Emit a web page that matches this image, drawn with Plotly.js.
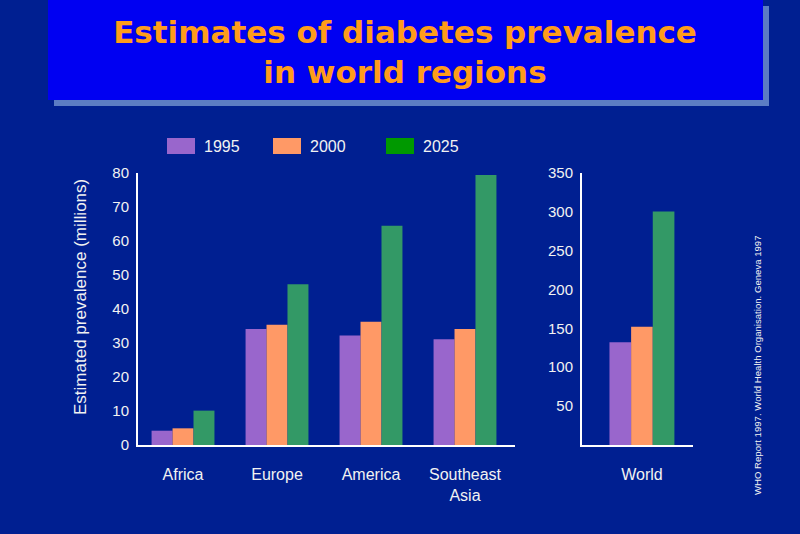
<!DOCTYPE html>
<html>
<head>
<meta charset="utf-8">
<script src="https://cdn.plot.ly/plotly-3.0.1.min.js"></script>
<style>
html,body{margin:0;padding:0;background:#001f91;}
#chart{width:800px;height:534px;}
</style>
</head>
<body>
<div id="chart"></div>
<script>
// ---- data ----
var regions = ["Africa", "Europe", "America", "Southeast<br>Asia"];
var worldCategory = ["World"];
var years = ["1995", "2000", "2025"];
var values1995 = [4.2, 34.1, 32.2, 31.1];
var values2000 = [4.9, 35.3, 36.2, 34.1];
var values2025 = [10.1, 47.2, 64.4, 79.3];
var world1995 = [132];
var world2000 = [152];
var world2025 = [300];
var leftTicks = [0, 10, 20, 30, 40, 50, 60, 70, 80];
var rightTicks = [50, 100, 150, 200, 250, 300, 350];

// ---- style ----
var W = 800, H = 534;
function px(x) { return x / W; }
function py(y) { return 1 - y / H; }
var barColors = ["#9966cc", "#ff9966", "#339966"];
var legendColors = ["#9966cc", "#ff9966", "#009900"];
var txt = "#f2f2f2";
var font = "Liberation Sans, Arial, sans-serif";

var regionSeries = [values1995, values2000, values2025];
var worldSeries = [world1995, world2000, world2025];
var wL = 0.223, wR = 0.195;

var traces = [];
for (var i = 0; i < 3; i++) {
  traces.push({
    type: "bar", x: regions, y: regionSeries[i], name: years[i],
    xaxis: "x", yaxis: "y",
    width: wL, offset: -1.5 * wL + i * wL,
    marker: {color: barColors[i], line: {width: 0}},
    showlegend: false, hoverinfo: "x+y"
  });
  traces.push({
    type: "bar", x: worldCategory, y: worldSeries[i], name: years[i],
    xaxis: "x2", yaxis: "y2",
    width: wR, offset: -1.5 * wR + i * wR,
    marker: {color: barColors[i], line: {width: 0}},
    showlegend: false, hoverinfo: "x+y"
  });
}

var shapes = [
  // title box shadow
  {type: "rect", xref: "paper", yref: "paper", layer: "below",
   x0: px(54), x1: px(769), y0: py(6), y1: py(106),
   fillcolor: "#5b7cc4", line: {width: 0}},
  // title box
  {type: "rect", xref: "paper", yref: "paper", layer: "below",
   x0: px(48), x1: px(763), y0: py(-2), y1: py(100),
   fillcolor: "#0000f2", line: {width: 0}}
];
var annotations = [];
var legendX = [167, 273, 386];
for (var k = 0; k < 3; k++) {
  shapes.push({type: "rect", xref: "paper", yref: "paper",
    x0: px(legendX[k]), x1: px(legendX[k] + 28), y0: py(154), y1: py(138),
    fillcolor: legendColors[k], line: {width: 0}});
  annotations.push({xref: "paper", yref: "paper", x: px(legendX[k] + 35), y: py(146),
    xanchor: "left", yanchor: "middle", showarrow: false, text: years[k],
    font: {family: font, size: 16, color: txt}});
}
annotations.push({xref: "paper", yref: "paper", x: px(80), y: py(297),
  xanchor: "center", yanchor: "middle", showarrow: false, textangle: -90,
  text: "Estimated prevalence (millions)",
  font: {family: font, size: 17, color: txt}});
annotations.push({xref: "paper", yref: "paper", x: px(757), y: py(365),
  xanchor: "center", yanchor: "middle", showarrow: false, textangle: -90,
  text: "WHO Report 1997. World Health Organisation. Geneva 1997",
  font: {family: font, size: 9.6, color: txt}});

var layout = {
  width: W, height: H,
  margin: {l: 0, r: 0, t: 0, b: 0},
  paper_bgcolor: "#001f91", plot_bgcolor: "rgba(0,0,0,0)",
  showlegend: false,
  title: {text: "Estimates of diabetes prevalence<br>in world regions",
    x: px(405), xanchor: "center", y: py(43), yanchor: "middle",
    yref: "container", xref: "container",
    font: {family: "DejaVu Sans, Verdana, sans-serif", size: 31, color: "#ff9c1a", weight: "bold"}},
  font: {family: font, color: txt},
  xaxis: {domain: [px(138), px(515)], range: [-0.479, 3.532], anchor: "y",
    showline: true, linecolor: "#ffffff", linewidth: 2, showgrid: false, zeroline: false,
    ticks: "", ticklabelstandoff: 14, tickfont: {family: font, size: 16, color: txt}, fixedrange: true},
  yaxis: {domain: [py(445), py(172.7)], range: [0, 80], anchor: "x",
    tickvals: leftTicks, showline: true, linecolor: "#ffffff", linewidth: 2,
    showgrid: false, zeroline: false, ticks: "", ticklabelstandoff: 4,
    tickfont: {family: font, size: 15, color: txt}},
  xaxis2: {domain: [px(582), px(693)], range: [-0.54, 0.46], anchor: "y2",
    showline: true, linecolor: "#ffffff", linewidth: 2, showgrid: false, zeroline: false,
    ticks: "", ticklabelstandoff: 14, tickfont: {family: font, size: 16, color: txt}},
  yaxis2: {domain: [py(445), py(172.7)], range: [0, 350], anchor: "x2",
    tickvals: rightTicks, showline: true, linecolor: "#ffffff", linewidth: 2,
    showgrid: false, zeroline: false, ticks: "", ticklabelstandoff: 4,
    tickfont: {family: font, size: 15, color: txt}},
  shapes: shapes,
  annotations: annotations
};

Plotly.newPlot("chart", traces, layout, {displayModeBar: false, staticPlot: true});
</script>
</body>
</html>
